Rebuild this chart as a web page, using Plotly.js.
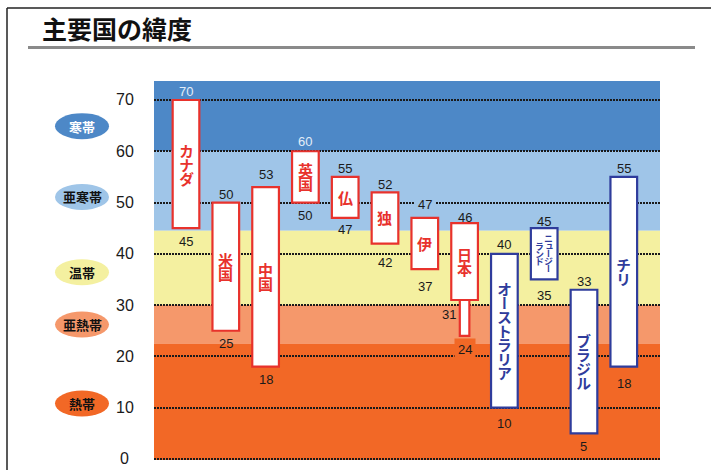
<!DOCTYPE html>
<html>
<head>
<meta charset="utf-8">
<script src="https://cdn.plot.ly/plotly-3.0.1.min.js"></script>
<style>
  html, body { margin: 0; padding: 0; background: #fff; }
  #chart { width: 711px; height: 470px; }
</style>
</head>
<body>
<div id="chart"></div>
<script>
// Latitude ranges of major countries (degrees, north or south)
const countries = ['カナダ', '米国', '中国', '英国', '仏', '独', '伊', '日本',
                   'オーストラリア', 'ニュージーランド', 'ブラジル', 'チリ'];
const upperLat = [70, 50, 53, 60, 55, 52, 47, 46, 40, 45, 33, 55];
const lowerLat = [45, 25, 18, 50, 47, 42, 37, 31, 10, 35, 5, 18];
const hemisphere = ['N', 'N', 'N', 'N', 'N', 'N', 'N', 'N', 'S', 'S', 'S', 'S'];

// Japan's southern islands continue below the main range
const japanIslandsTop = 31;
const japanIslandsBottom = 24;

// Climate zones and their lower latitude boundaries
const zoneNames = ['寒帯', '亜寒帯', '温帯', '亜熱帯', '熱帯'];
const zoneLower = [60, 44.5, 30, 22.5, 0];

// Axis ticks
const tickValues = [0, 10, 20, 30, 40, 50, 60, 70];
const tickLabels = ['0', '10', '20', '30', '40', '50', '60', '70'];

// ---- styling ----
const Y_MIN = -0.2, Y_MAX = 73.7;
const M = { l: 154, r: 51, t: 81, b: 10 };
const W = 711, H = 470;
const plotW = W - M.l - M.r, plotH = H - M.t - M.b;
const pxPerUnit = plotH / (Y_MAX - Y_MIN);
const px2paperX = px => (px - M.l) / plotW;
const px2paperY = py => (H - M.b - py) / plotH;

const zoneColors = ['#4d88c7', '#9fc5e8', '#f4f0a0', '#f5986b', '#f26826'];
const zoneBadgeY = [64.9, 51.1, 36.4, 26.2, 10.8];
const zoneTextColor = ['#ffffff', '#111111', '#111111', '#111111', '#111111'];
const RED = '#e8322c', BLUE = '#2f3c9c';
const jpFont = 'Noto Sans CJK JP, sans-serif';
const numFont = 'Liberation Sans, Arial, sans-serif';
const LINE_SPACING = 1.3; // plotly's line height for multi-line text

// gap (px) between a bar end and its value label
const topGap = [8, 8, 13, 10, 8, 8, 13, 6, 9, 7, 8, 8];
const bottomGap = [13, 13, 13, 13, 12, 19, 17, 15, 16, 16, 13, 17];

function zoneColorAt(v) {
  for (let i = 0; i < zoneLower.length; i++) if (v >= zoneLower[i]) return zoneColors[i];
  return zoneColors[zoneColors.length - 1];
}

const barColor = hemisphere.map(h => (h === 'N' ? RED : BLUE));
const idxN = countries.map((c, i) => i).filter(i => hemisphere[i] === 'N');
const idxS = countries.map((c, i) => i).filter(i => hemisphere[i] === 'S');

function rangeTrace(ids, color) {
  return {
    type: 'bar',
    x: ids.map(i => countries[i]),
    base: ids.map(i => lowerLat[i]),
    y: ids.map(i => upperLat[i] - lowerLat[i]),
    width: ids.map(() => 0.67),
    marker: { color: '#ffffff', line: { color: color, width: 2.2 } },
    hoverinfo: 'skip', showlegend: false
  };
}

const traces = [
  {
    type: 'bar',
    x: ['日本'],
    base: [japanIslandsBottom],
    y: [japanIslandsTop - japanIslandsBottom],
    width: [0.24],
    marker: { color: '#ffffff', line: { color: RED, width: 2.2 } },
    hoverinfo: 'skip', showlegend: false
  },
  rangeTrace(idxN, RED),
  rangeTrace(idxS, BLUE)
];

const annotations = [];
const shapes = [];

// climate zone bands behind the grid
zoneNames.forEach((z, i) => {
  const hi = i === 0 ? Y_MAX : zoneLower[i - 1];
  const lo = i === zoneNames.length - 1 ? Y_MIN : zoneLower[i];
  shapes.push({ type: 'rect', layer: 'below', xref: 'paper', yref: 'y',
    x0: 0, x1: 1, y0: lo, y1: hi, fillcolor: zoneColors[i], line: { width: 0 } });
  // zone badge on the left
  const half = 13 / pxPerUnit;
  shapes.push({ type: 'circle', xref: 'paper', yref: 'y',
    x0: px2paperX(55), x1: px2paperX(109), y0: zoneBadgeY[i] - half, y1: zoneBadgeY[i] + half,
    fillcolor: zoneColors[i], line: { width: 0 } });
  annotations.push({ xref: 'paper', yref: 'y', x: px2paperX(82), y: zoneBadgeY[i],
    text: z, showarrow: false, xanchor: 'center', yanchor: 'middle',
    font: { family: jpFont, size: 13, color: zoneTextColor[i], weight: 700 } });
});

// y tick labels, centred in their column
tickValues.forEach((v, i) => {
  annotations.push({ xref: 'paper', yref: 'y', x: px2paperX(124.5), y: v,
    text: tickLabels[i], showarrow: false, xanchor: 'center', yanchor: 'middle',
    font: { family: numFont, size: 16, color: '#1a1a1a' } });
});

// vertical (tategaki) text: one character per line, vertical glyph forms
function verticalText(str, cat, yCenter, color, size, step, xshift) {
  const body = Array.from(str)
    .map(ch => `<span style='font-size:${size}px;font-feature-settings:"vert" 1'>${ch}</span>`)
    .join('<br>');
  annotations.push({ x: cat, y: yCenter, xref: 'x', yref: 'y', text: body, showarrow: false,
    xanchor: 'center', yanchor: 'middle', align: 'center', xshift: xshift || 0,
    borderpad: 0,
    font: { family: jpFont, size: step / LINE_SPACING, color: color, weight: 700 } });
}

countries.forEach((c, i) => {
  const yc = (upperLat[i] + lowerLat[i]) / 2;
  if (c === 'ニュージーランド') {
    verticalText('ニュージー', c, yc, barColor[i], 9, 7.6, 4.8);
    verticalText('ランド', c, yc, barColor[i], 9, 7.6, -4.4);
  } else {
    verticalText(c, c, yc, barColor[i], 15, 14, 0);
  }
});

// value labels above and below each range
function valueLabel(cat, v, shiftPx, xshift) {
  const labelVal = v + shiftPx / pxPerUnit;
  const nearest = Math.round(labelVal / 10) * 10;
  const onGrid = Math.abs(labelVal - nearest) < 1.4;
  const a = { x: cat, y: v, xref: 'x', yref: 'y', text: String(v), showarrow: false,
    xanchor: 'center', yanchor: 'middle', yshift: shiftPx, xshift: xshift || 0,
    font: { family: numFont, size: 13, color: labelVal >= 60 ? '#e2edf8' : '#1a1a1a' } };
  if (onGrid) { a.bgcolor = zoneColorAt(labelVal); a.borderpad = 3; }
  annotations.push(a);
}

countries.forEach((c, i) => {
  valueLabel(c, upperLat[i], topGap[i]);
  if (c === '日本') {
    valueLabel(c, lowerLat[i], -bottomGap[i], -16);
    valueLabel(c, japanIslandsBottom, -14);
  } else {
    valueLabel(c, lowerLat[i], -bottomGap[i]);
  }
});

// frame and title rule
shapes.push({ type: 'line', xref: 'paper', yref: 'paper',
  x0: px2paperX(7), x1: px2paperX(712), y0: px2paperY(8), y1: px2paperY(8),
  line: { color: '#222', width: 1.5 } });
shapes.push({ type: 'line', xref: 'paper', yref: 'paper',
  x0: px2paperX(7), x1: px2paperX(7), y0: px2paperY(8), y1: px2paperY(472),
  line: { color: '#222', width: 1.5 } });
shapes.push({ type: 'line', xref: 'paper', yref: 'paper',
  x0: px2paperX(28), x1: px2paperX(695), y0: px2paperY(47.5), y1: px2paperY(47.5),
  line: { color: '#8a8a8a', width: 3 } });

const layout = {
  width: W, height: H,
  margin: M,
  paper_bgcolor: '#ffffff', plot_bgcolor: '#ffffff',
  title: { text: '主要国の緯度', xref: 'container', yref: 'container',
    x: 42 / W, xanchor: 'left', y: 1 - 30 / H, yanchor: 'middle',
    font: { family: jpFont, size: 25, color: '#111', weight: 700 } },
  barmode: 'overlay',
  xaxis: { type: 'category', categoryorder: 'array', categoryarray: countries,
    range: [-0.804, 11.91], showticklabels: false, showgrid: false, zeroline: false,
    showline: false, ticks: '', fixedrange: true },
  yaxis: { range: [Y_MIN, Y_MAX], tickvals: tickValues, showticklabels: false,
    showgrid: true, gridcolor: '#1a1a1a', gridwidth: 2, griddash: '2px,1px',
    zeroline: false, showline: false, ticks: '', fixedrange: true },
  shapes: shapes,
  annotations: annotations,
  showlegend: false
};

Plotly.newPlot('chart', traces, layout, { staticPlot: true, displayModeBar: false });
</script>
</body>
</html>
